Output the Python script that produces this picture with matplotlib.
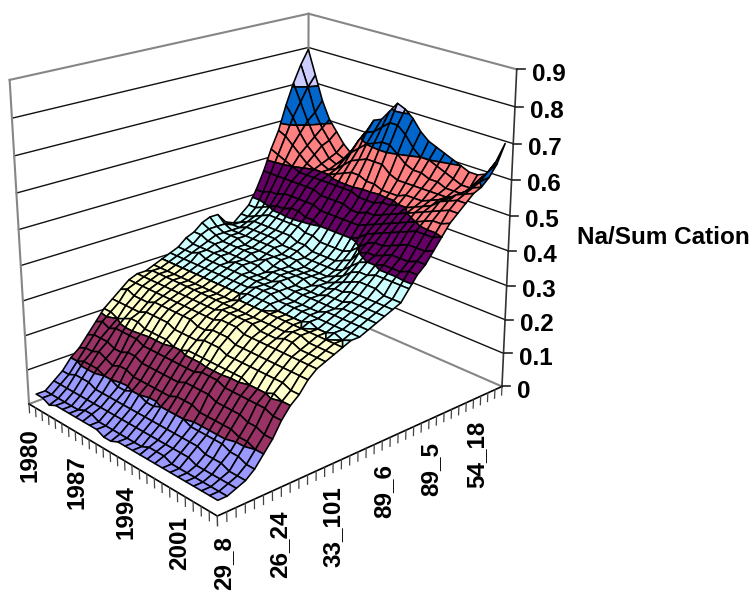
import numpy as np
import matplotlib
matplotlib.use("Agg")
import matplotlib.pyplot as plt
from mpl_toolkits.mplot3d.art3d import Poly3DCollection

plt.rcParams['font.family'] = ['Liberation Sans', 'DejaVu Sans']

# ---------- data ----------
years = list(range(1980, 2006))
year_labels = ['1980', '1987', '1994', '2001']
year_label_idx = [0, 7, 14, 21]
site_labels = ['29_8', '26_24', '33_101', '89_6', '89_5', '54_18']
site_label_idx = [0, 6, 12, 18, 24, 30]
z_ticks = [0, 0.1, 0.2, 0.3, 0.4, 0.5, 0.6, 0.7, 0.8, 0.9]
z_title = 'Na/Sum Cation'
band_colors = ['#9999FF', '#993366', '#FFFFCC', '#CCFFFF', '#660066',
               '#FF8080', '#0066CC', '#CCCCFF', '#CCCCFF']

# Na/Sum Cation x 100; one row per year, one column per site
na_pct = [
 [3,3,5,7,10,12,15,18,21,23,25,27,28,28,29,30,31,32,34,35,37,38,38,35,34,36,38,42,47,53,58,65,71,76,80],
 [3,3,5,7,10,13,16,19,21,23,26,27,28,29,29,30,31,32,33,35,36,36,36,35,35,36,38,42,47,52,57,62,66,70,73],
 [2,3,5,8,11,13,16,18,20,23,25,27,28,29,29,30,31,32,33,34,35,35,35,35,36,37,39,43,47,51,55,58,61,63,66],
 [3,3,5,8,11,14,16,19,21,23,25,27,28,29,29,30,31,33,33,34,34,35,35,36,37,38,40,43,47,50,53,55,57,59,61],
 [3,3,5,8,11,13,15,19,22,23,25,27,28,29,29,30,31,32,33,33,34,35,35,36,37,39,41,44,47,49,51,53,55,56,58],
 [3,3,5,7,10,12,15,19,22,24,26,27,28,29,29,30,31,32,33,33,34,34,35,36,37,39,41,44,47,49,50,51,52,53,55],
 [3,4,5,7,10,13,16,19,21,24,26,27,28,29,29,30,31,32,32,33,34,34,35,36,37,39,42,44,47,49,50,50,51,52,53],
 [3,4,5,7,9,13,16,18,21,24,26,27,28,29,29,30,31,32,33,33,34,34,35,36,37,39,42,44,47,49,50,51,53,55,57],
 [3,3,5,7,9,12,15,18,21,24,26,27,28,29,29,30,31,32,33,33,33,34,35,35,37,39,41,44,46,49,51,53,56,59,61],
 [3,3,5,7,10,12,15,18,21,23,26,27,28,29,29,30,31,32,32,33,34,34,34,35,36,38,41,43,46,49,52,55,58,62,65],
 [2,3,5,7,10,12,15,18,20,23,26,27,28,29,29,30,31,32,32,32,33,34,34,35,36,38,40,43,46,49,53,56,60,63,66],
 [2,3,5,7,9,12,15,18,20,23,25,27,28,29,29,30,31,32,32,33,33,33,34,34,35,37,40,43,46,49,53,57,61,65,69],
 [3,3,5,7,9,12,15,18,21,23,25,27,29,29,30,31,32,32,32,33,33,33,33,34,35,37,40,43,45,48,52,57,62,67,72],
 [3,3,5,7,10,12,15,18,21,24,26,28,29,29,30,31,32,32,33,33,33,33,33,34,35,37,40,43,45,48,52,57,62,67,71],
 [3,3,5,7,10,13,16,18,21,24,26,28,29,29,30,31,32,32,32,32,33,33,33,34,35,37,40,43,46,48,51,55,60,65,69],
 [3,4,5,7,10,13,16,19,21,24,26,28,29,29,30,31,31,31,32,32,32,33,33,34,36,38,41,44,46,49,51,54,58,62,66],
 [3,4,5,7,10,13,16,19,21,23,25,27,29,29,30,30,31,31,32,32,33,33,34,35,37,40,43,45,47,49,51,54,57,60,64],
 [3,4,5,7,9,12,16,19,21,23,25,27,28,29,30,30,31,31,32,32,33,34,35,37,40,42,44,46,48,50,52,54,57,60,63],
 [3,3,5,7,9,12,15,18,21,23,25,27,28,29,30,30,31,31,32,33,34,35,37,39,41,43,45,47,49,50,52,54,56,59,62],
 [3,3,5,7,9,12,15,18,21,23,25,27,28,29,30,30,31,31,32,33,34,36,38,40,41,43,46,48,50,51,52,54,56,58,61],
 [3,3,4,6,9,12,15,18,20,23,25,27,29,30,30,31,31,32,32,33,35,37,38,40,42,44,47,49,51,52,53,54,55,57,60],
 [3,3,4,6,9,12,15,18,20,23,25,27,29,30,30,30,31,32,33,34,35,37,39,41,43,45,48,50,52,53,54,54,55,56,59],
 [3,3,4,6,8,11,14,18,20,23,25,27,28,29,30,30,31,32,33,34,35,37,39,41,43,46,49,51,53,55,55,55,55,56,59],
 [3,3,4,5,8,11,14,18,21,23,25,27,28,29,30,31,31,32,33,34,35,36,39,41,43,46,49,52,54,56,57,57,57,59,60],
 [3,3,4,5,7,10,13,17,20,22,25,27,28,29,30,30,31,32,33,34,35,36,39,42,44,46,49,52,55,57,58,59,60,62,64],
 [3,3,4,5,7,10,13,17,20,22,25,27,28,29,30,31,31,32,33,34,35,36,39,42,44,47,50,53,55,57,59,60,62,65,70],
]

# ---------- figure and camera ----------
W, H = 755, 593
fig = plt.figure(figsize=(W / 100, H / 100), dpi=100, facecolor='white')
ax = fig.add_axes([0, -(W - H) / 2 / H, 1, W / H], projection='3d')
ax.set_axis_off()
ax.computed_zorder = False
ax.set_autoscale_on(False)

Z = np.array(na_pct, dtype=float) / 100
nu, nv = Z.shape            # categories sit in the middle of each tick interval
zmax = z_ticks[-1]

# Corners of the chart box in output pixels: (year, site, height) -> (px, py)
corners = [((0, 0, 0), (29, 403)), ((1, 0, 0), (217, 517)), ((1, 1, 0), (502, 385)),
           ((0, 1, 0), (308, 303)), ((0, 0, 1), (10, 80)), ((0, 1, 1), (308, 13)),
           ((1, 1, 1), (517, 70))]
rows = []
for (a, b, c), (px, py) in corners:
    rows.append([a, b, c, 1, 0, 0, 0, 0, -px * a, -px * b, -px * c, -px])
    rows.append([0, 0, 0, 0, a, b, c, 1, -py * a, -py * b, -py * c, -py])
_, _, vt = np.linalg.svd(np.array(rows, dtype=float))
P = vt[-1].reshape(3, 4)
if P[2, 3] < 0:
    P = -P
P = P @ np.diag([1 / nu, 1 / nv, 1 / zmax, 1])


def to_px(u, v, z):
    q = P @ np.array([u, v, z, 1.0])
    return q[0] / q[2], q[1] / q[2]


def get_proj():
    inv = ax.transData.inverted()
    d0 = inv.transform((0, 0))
    dx = inv.transform((1, 0)) - d0
    dy = inv.transform((0, 1)) - d0
    A = np.array([[dx[0], dy[0], d0[0]], [dx[1], dy[1], d0[1]], [0, 0, 1]])
    F = np.array([[1, 0, 0], [0, -1, H], [0, 0, 1]], dtype=float)
    Q = A @ F @ P
    return np.vstack([Q[0], Q[1], [0, 0, 0, -1], Q[2]])


ax.get_proj = get_proj

# ---------- walls ----------
GRAY = '#868686'
for t in z_ticks[1:-1]:
    ax.plot([0, 0], [0, nv], [t, t], color='#111111', lw=1.0, zorder=1)
    ax.plot([0, nu], [nv, nv], [t, t], color='#111111', lw=1.0, zorder=1)
ax.plot([0, 0, nu], [0, nv, nv], [zmax] * 3, color=GRAY, lw=1.5, zorder=1)
ax.plot([0, 0, nu], [0, nv, nv], [0, 0, 0], color=GRAY, lw=1.5, zorder=1)
ax.plot([0, 0], [0, 0], [0, zmax], color=GRAY, lw=1.5, zorder=1)
ax.plot([0, 0], [nv, nv], [0, zmax], color=GRAY, lw=1.5, zorder=1)

# ---------- axes lines, ticks, labels ----------
ax.plot([nu, nu], [nv, nv], [0, zmax], color='#333333', lw=1.2, zorder=2)
ax.plot([0, nu, nu], [0, 0, nv], [0, 0, 0], color='black', lw=1.2, zorder=2)
for i in range(nu + 1):
    ax.plot([i, i], [0, 0], [0, -0.026], color='#444444', lw=0.9, zorder=2)
for j in range(nv + 1):
    ax.plot([nu, nu], [j, j], [0, -0.026], color='#444444', lw=0.9, zorder=2)

font = dict(fontsize=17.5, fontweight='bold', color='black')


def px_text(x, y, s, **kw):
    fig.text(x / W, 1 - y / H, s, **kw, **font)


for lab, i in zip(year_labels, year_label_idx):
    x, y = to_px(i + 0.5, 0, 0)
    px_text(x - 2, y + 22, lab, rotation=90, ha='center', va='top')
for lab, j in zip(site_labels, site_label_idx):
    x, y = to_px(nu, j + 0.5, 0)
    px_text(x + 2 + 0.17 * j, y + 22 - 0.07 * j, lab, rotation=90, ha='center', va='top')
for t in z_ticks:
    x, y = to_px(nu, nv, t)
    fig.add_artist(plt.Line2D([x / W, (x + 8) / W], [1 - y / H, 1 - y / H], color='#222222', lw=1.2))
    px_text(x + 15, y + 5, f'{t:g}', ha='left', va='center')
px_text(577, 237, z_title, ha='left', va='center')


# ---------- surface, split into value bands ----------
def clip(poly, level, keep_above):
    out = []
    n = len(poly)
    for k in range(n):
        a, b = poly[k], poly[(k + 1) % n]
        ina = (a[2] >= level) == keep_above
        inb = (b[2] >= level) == keep_above
        if ina:
            out.append(a)
        if ina != inb:
            s = (level - a[2]) / (b[2] - a[2])
            out.append(tuple(a[m] + s * (b[m] - a[m]) for m in range(3)))
    return out


verts, faces = [], []
for i in range(nu - 1):
    for j in range(nv - 1):
        u0, u1, v0, v1 = i + 0.5, i + 1.5, j + 0.5, j + 1.5
        quad = [(u0, v0, Z[i, j]), (u1, v0, Z[i + 1, j]),
                (u1, v1, Z[i + 1, j + 1]), (u0, v1, Z[i, j + 1])]
        for b, col in enumerate(band_colors):
            lo, hi = b * 0.1, (b + 1) * 0.1
            piece = clip(quad, lo, True)
            if len(piece) >= 3:
                piece = clip(piece, hi, False)
            if len(piece) >= 3:
                verts.append(piece)
                faces.append(col)

surf = Poly3DCollection(verts, facecolors=faces, edgecolors='black', linewidths=1.15, zorder=5)
surf.set_facecolor(faces)
surf.set_edgecolor('black')
ax.add_collection3d(surf, autolim=False)

fig.savefig('out.png', dpi=100, facecolor='white')
